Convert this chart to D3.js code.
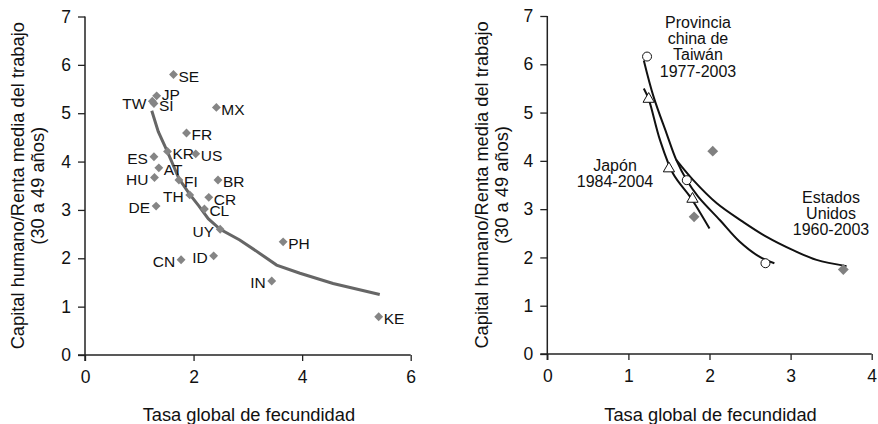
<!DOCTYPE html>
<html>
<head>
<meta charset="utf-8">
<script src="https://cdn.jsdelivr.net/npm/d3@7/dist/d3.min.js"></script>
<style>
  body { margin: 0; background: #fff; }
  svg { display: block; font-family: Arial, 'Liberation Sans', sans-serif; }
</style>
</head>
<body>
<div id="chart-area"></div>
<script>
// left panel: countries, fertility vs human capital ratio
const countries = ['SE','JP','TW','SI','MX','FR','KR','US','ES','AT','HU','FI','BR','TH','CR','DE','CL','UY','PH','CN','ID','IN','KE'];
const countryTFR = [1.63,1.32,1.24,1.27,2.42,1.87,1.52,2.04,1.27,1.36,1.28,1.73,2.45,1.93,2.28,1.31,2.20,2.49,3.65,1.77,2.37,3.44,5.41];
const countryHK = [5.80,5.36,5.25,5.20,5.12,4.59,4.21,4.16,4.10,3.87,3.67,3.62,3.62,3.31,3.26,3.08,3.02,2.60,2.34,1.97,2.05,1.53,0.79];
const labelsOnLeft = ['TW','ES','HU','DE','TH','UY','CN','ID','IN'];

// fitted line in left panel
const fitTFR = [1.23,1.35,1.52,1.73,1.93,2.10,2.27,2.49,2.85,3.22,3.53,3.96,4.57,5.43];
const fitHK = [5.05,4.62,4.20,3.65,3.32,3.08,2.82,2.60,2.38,2.10,1.86,1.69,1.48,1.25];

// right panel: time paths
const taiwanTFR = [1.23,1.72,2.69];
const taiwanHK = [6.16,3.60,1.88];
const japanTFR = [1.25,1.50,1.79];
const japanHK = [5.28,3.84,3.21];
const usTFR = [2.04,1.81,3.65];
const usHK = [4.20,2.84,1.75];

const taiwanCurveTFR = [1.19,1.31,1.47,1.59,1.72,1.86,2.13,2.37,2.62,2.80];
const taiwanCurveHK = [6.08,5.33,4.57,4.02,3.60,3.26,2.77,2.33,2.01,1.88];
const japanCurveTFR = [1.19,1.25,1.39,1.55,1.76,1.84,2.00];
const japanCurveHK = [5.50,5.28,4.43,3.74,3.26,3.05,2.60];
const usCurveTFR = [1.59,1.80,2.09,2.41,2.70,3.03,3.32,3.69];
const usCurveHK = [4.02,3.60,3.12,2.74,2.43,2.15,1.95,1.82];

const yTicks = [0,1,2,3,4,5,6,7];
const leftXTicks = [0,2,4,6];
const rightXTicks = [0,1,2,3,4];

const yTitle1 = 'Capital humano/Renta media del trabajo';
const yTitle2 = '(30 a 49 años)';
const xTitle = 'Tasa global de fecundidad';

let width = 878;
let height = 424;

let svg = d3.select('#chart-area').append('svg').attr('width', width).attr('height', height);

function drawAxes(x, y, xTicks, titleX1, titleX2) {
  let g = svg.append('g');
  let x0 = x.range()[0];
  let y0 = y.range()[0];
  g.append('g')
    .attr('transform', `translate(0,${y0})`)
    .call(d3.axisBottom(x).tickValues(xTicks).tickFormat(d3.format('d')).tickSizeInner(6).tickSizeOuter(0).tickPadding(10))
    .call(ax => ax.select('.domain').attr('stroke', '#222').attr('stroke-width', 1.5).attr('d', `M${x0 - 7},0H${x.range()[1]}`))
    .call(ax => ax.selectAll('.tick line').attr('stroke', '#222').attr('stroke-width', 1.3))
    .call(ax => ax.selectAll('text').attr('font-size', 17.5).attr('fill', '#111').attr('font-family', 'Arial, Liberation Sans, sans-serif'));
  g.append('g')
    .attr('transform', `translate(${x0},0)`)
    .call(d3.axisLeft(y).tickValues(yTicks).tickFormat(d3.format('d')).tickSizeInner(7).tickSizeOuter(0).tickPadding(7))
    .call(ax => ax.select('.domain').attr('stroke', '#222').attr('stroke-width', 1.5).attr('d', `M0,${y.range()[1]}V${y0 + 6}`))
    .call(ax => ax.selectAll('.tick line').attr('stroke', '#222').attr('stroke-width', 1.3))
    .call(ax => ax.selectAll('text').attr('font-size', 17.5).attr('fill', '#111').attr('font-family', 'Arial, Liberation Sans, sans-serif'));

  let cy = (y.range()[0] + y.range()[1]) / 2;
  [[yTitle1, titleX1], [yTitle2, titleX2]].forEach(([t, tx]) => {
    svg.append('text')
      .attr('transform', `translate(${tx},${cy}) rotate(-90)`)
      .attr('text-anchor', 'middle')
      .attr('dy', '0.35em')
      .attr('font-size', 18.3)
      .attr('fill', '#111')
      .text(t);
  });
  svg.append('text')
    .attr('x', (x.range()[0] + x.range()[1]) / 2 + 1)
    .attr('y', 415)
    .attr('dy', '0.35em')
    .attr('text-anchor', 'middle')
    .attr('font-size', 18.3)
    .attr('fill', '#111')
    .text(xTitle);
}

// ---- left panel
let xL = d3.scaleLinear().domain([0, 6]).range([85, 410.7]);
let yL = d3.scaleLinear().domain([0, 7]).range([355, 16.5]);
drawAxes(xL, yL, leftXTicks, 18, 38);

let fitLine = d3.line().x(d => xL(d[0])).y(d => yL(d[1]));
svg.append('path')
  .attr('d', fitLine(d3.zip(fitTFR, fitHK)))
  .attr('fill', 'none')
  .attr('stroke', '#666')
  .attr('stroke-width', 3);

let diamond = d3.symbol().type(d3.symbolDiamond2).size(50);
let pts = svg.append('g').selectAll('g')
  .data(countries.map((c, i) => ({ c, x: countryTFR[i], y: countryHK[i] })))
  .enter()
  .append('g')
  .attr('transform', d => `translate(${xL(d.x)},${yL(d.y)})`);
pts.append('path').attr('d', diamond).attr('fill', '#858585');
pts.append('text')
  .attr('x', d => labelsOnLeft.includes(d.c) ? -6 : 5)
  .attr('y', d => d.c === 'JP' ? -1 : 2)
  .attr('dy', '0.35em')
  .attr('text-anchor', d => labelsOnLeft.includes(d.c) ? 'end' : 'start')
  .attr('font-size', 15.5)
  .attr('fill', '#111')
  .text(d => d.c);

// ---- right panel
let xR = d3.scaleLinear().domain([0, 4]).range([547.3, 871.7]);
let yR = d3.scaleLinear().domain([0, 7]).range([354, 16]);
drawAxes(xR, yR, rightXTicks, 482, 502);

let curve = d3.line().x(d => xR(d[0])).y(d => yR(d[1])).curve(d3.curveCatmullRom);
[[taiwanCurveTFR, taiwanCurveHK], [japanCurveTFR, japanCurveHK], [usCurveTFR, usCurveHK]].forEach(([a, b]) => {
  svg.append('path')
    .attr('d', curve(d3.zip(a, b)))
    .attr('fill', 'none')
    .attr('stroke', '#111')
    .attr('stroke-width', 2);
});

svg.append('g').selectAll('path')
  .data(d3.zip(usTFR, usHK))
  .enter()
  .append('path')
  .attr('transform', d => `translate(${xR(d[0])},${yR(d[1])})`)
  .attr('d', d3.symbol().type(d3.symbolDiamond2).size(75))
  .attr('fill', '#808080');

svg.append('g').selectAll('path')
  .data(d3.zip(japanTFR, japanHK))
  .enter()
  .append('path')
  .attr('transform', d => `translate(${xR(d[0])},${yR(d[1])})`)
  .attr('d', d3.symbol().type(d3.symbolTriangle).size(55))
  .attr('fill', '#fff')
  .attr('stroke', '#111')
  .attr('stroke-width', 1);

svg.append('g').selectAll('circle')
  .data(d3.zip(taiwanTFR, taiwanHK))
  .enter()
  .append('circle')
  .attr('cx', d => xR(d[0]))
  .attr('cy', d => yR(d[1]))
  .attr('r', 4.5)
  .attr('fill', '#fff')
  .attr('stroke', '#111')
  .attr('stroke-width', 1);

function block(lines, cx, cy) {
  let t = svg.append('text')
    .attr('text-anchor', 'middle')
    .attr('font-size', 16)
    .attr('fill', '#111');
  lines.forEach((l, i) => {
    t.append('tspan').attr('x', cx).attr('y', cy + i * 16.3).attr('dy', '0.35em').text(l);
  });
}
block(['Provincia', 'china de', 'Taiwán', '1977-2003'], 698, 22);
block(['Japón', '1984-2004'], 615, 165);
block(['Estados', 'Unidos', '1960-2003'], 831, 197);
</script>
</body>
</html>
